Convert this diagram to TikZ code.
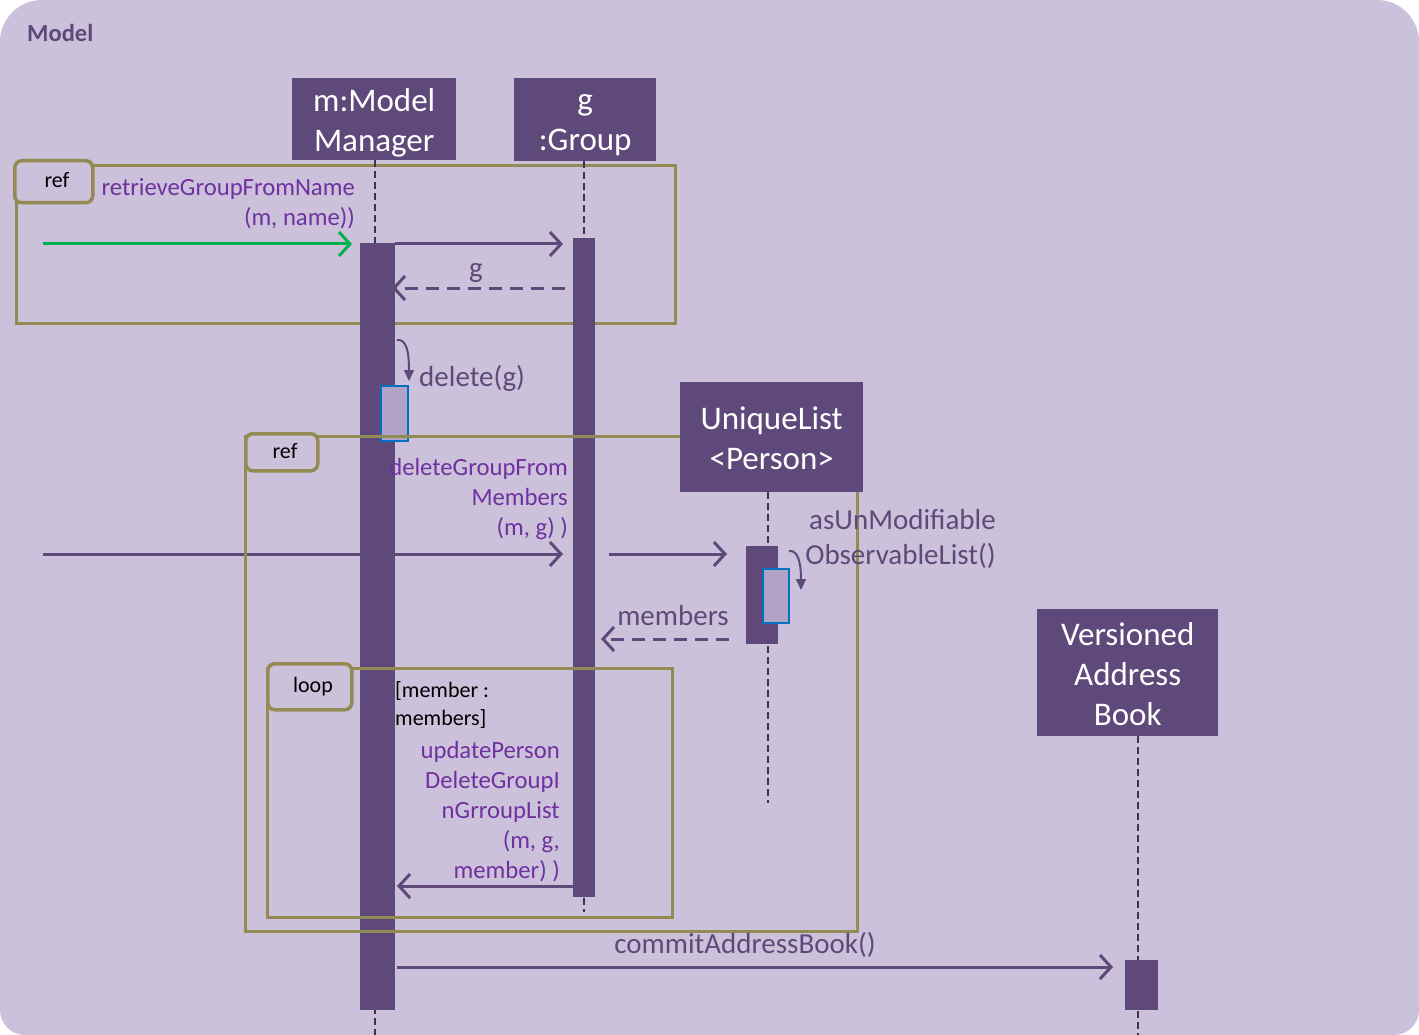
\documentclass[tikz,border=0pt]{standalone}
\usepackage{fontspec}
\setmainfont{Carlito}
\usetikzlibrary{arrows.meta}
\definecolor{bgc}{HTML}{CCC1DA}
\definecolor{dk}{HTML}{5F497A}
\definecolor{dkline}{HTML}{3F3151}
\definecolor{olive}{HTML}{948A54}
\definecolor{ptext}{HTML}{7030A0}
\definecolor{lite}{HTML}{B3A2C7}
\definecolor{blu}{HTML}{0070C0}
\definecolor{grn}{HTML}{00B050}
\begin{document}
\begin{tikzpicture}[x=1pt,y=-1pt,
  hdr/.style={fill=dk, inner sep=0, anchor=north west},
  hdrtxt/.style={text=white, inner sep=0, align=center, font=\fontsize{33}{40}\selectfont},
  bar/.style={fill=dk, draw=none, inner sep=0, anchor=north west},
  sub/.style={fill=lite, draw=blu, line width=1.5pt, inner sep=0, anchor=north west},
  life/.style={draw=dkline, line width=2.5pt, dash pattern=on 7pt off 4pt},
  msg/.style={draw=dk, line width=3pt, -{Straight Barb[length=11pt,width=24pt]}},
  retmsg/.style={msg, dash pattern=on 13pt off 8pt},
  selfcall/.style={draw=dk, line width=2pt, -{Triangle[length=11pt,width=10pt]}},
  frm/.style={draw=olive, line width=3pt, inner sep=0, anchor=north west},
  tabbox/.style={draw=olive, fill=bgc, line width=3.5pt, rounded corners=7pt, inner sep=0, anchor=north west},
  tabtxt/.style={inner sep=0, text=black, font=\fontsize{22}{28}\selectfont, anchor=base},
  lblp/.style={inner sep=0, text=ptext, font=\fontsize{24.7}{30}\selectfont},
  lbld/.style={inner sep=0, text=dk, font=\fontsize{29}{35}\selectfont},
]
\useasboundingbox (0,0) rectangle (1419,1035);
\fill[white] (0,0) rectangle (1419,1035);
\fill[bgc] (0,520) [rounded corners=42pt] -- (0,0) -- (1419,0) -- (1419,520) [rounded corners=25pt] -- (1419,1035) -- (0,1035) -- cycle;

\node[inner sep=0, anchor=base west, text=dk, font=\bfseries\fontsize{24.5}{30}\selectfont] (title) at (27,42) {Model};

% ref frame 1 (behind bars)
\node[frm, minimum width=659pt, minimum height=158pt] (ref1) at (15,164) {};
\node[tabbox, minimum width=78pt, minimum height=42pt] (ref1tab) at (13,159) {};
\node[tabtxt] (ref1txt) at (57,188) {ref};

% header nodes (named for lifelines)
\node[hdr, minimum width=164pt, minimum height=82pt] (mm) at (292,78) {};
\node[hdrtxt] (mmtxt) at ([yshift=-4pt]mm.center) {m:Model\\Manager};
\node[hdr, minimum width=142pt, minimum height=83pt] (gg) at (514,78) {};
\node[hdrtxt] (ggtxt) at ([yshift=-5pt]gg.center) {g\\:Group};

% lifelines
\coordinate (mEnd) at (375,1035);
\coordinate (gEnd) at (584,912);
\coordinate (uEnd) at (768,803);
\coordinate (vEnd) at (1138,1035);
\draw[life] (mEnd |- mm.south) -- (mEnd);
\draw[life] (gEnd |- gg.south) -- (gEnd);
\draw[life] (768,492) -- (uEnd);
\draw[life] (1138,736) -- (vEnd);

% messages behind bars
\coordinate (a0s) at (43,244);  \coordinate (a0e) at (352,244);
\draw[msg, draw=grn] (a0s) -- (a0e);
\coordinate (a3s) at (43,554);  \coordinate (a3e) at (563,554);
\draw[msg] (a3s) -- (a3e);

% activation bars
\node[bar, minimum width=35pt, minimum height=767pt] (mact) at (360,243) {};
\node[bar, minimum width=22pt, minimum height=659pt] (gact) at (573,238) {};
\node[bar, minimum width=32pt, minimum height=98pt] (uact) at (746,546) {};
\node[bar, minimum width=33pt, minimum height=50pt] (vact) at (1125,960) {};
\node[sub, minimum width=27pt, minimum height=55pt] (msub) at (380,385) {};
\node[sub, minimum width=26pt, minimum height=54pt] (usub) at (762,568) {};

% messages
\coordinate (a1s) at (395,244); \coordinate (a1e) at (563,244);
\draw[msg] (a1s) -- (a1e);
\coordinate (a2s) at (565,288); \coordinate (a2e) at (392,288);
\draw[retmsg] (a2s) -- (a2e);
\coordinate (a4s) at (609,554); \coordinate (a4e) at (727,554);
\draw[msg] (a4s) -- (a4e);
\coordinate (a5s) at (729,639); \coordinate (a5e) at (601,639);
\draw[retmsg] (a5s) -- (a5e);
\coordinate (a6s) at (573,886); \coordinate (a6e) at (397,886);
\draw[msg] (a6s) -- (a6e);
\coordinate (a7s) at (397,967); \coordinate (a7e) at (1113,967);
\draw[msg] (a7s) -- (a7e);

% self calls
\coordinate (s1s) at (397,340); \coordinate (s1e) at (409,381);
\draw[selfcall] (s1s) .. controls (406,339) and (409,350) .. (s1e);
\coordinate (s2s) at (789,551); \coordinate (s2e) at (801,590);
\draw[selfcall] (s2s) .. controls (797,550) and (801,560) .. (s2e);

% ref frame 2 and loop frame (on top of bars)
\node[frm, minimum width=612pt, minimum height=495pt] (ref2) at (244,435) {};
\node[tabbox, minimum width=72pt, minimum height=37pt] (ref2tab) at (244,432) {};
\node[tabtxt] (ref2txt) at (285,458) {ref};
\node[frm, minimum width=405pt, minimum height=249pt] (loopf) at (266,667) {};
\node[tabbox, minimum width=84pt, minimum height=46pt] (looptab) at (266,662) {};
\node[tabtxt] (looptxt) at (313,692) {loop};

% headers on top
\node[hdr, minimum width=183pt, minimum height=110pt] (ul) at (680,382) {};
\node[hdrtxt] (ultxt) at ([yshift=-1pt]ul.center) {UniqueList\\<Person>};
\node[hdr, minimum width=181pt, minimum height=127pt] (vab) at (1037,609) {};
\node[hdrtxt] (vabtxt) at ([yshift=-1pt]vab.center) {Versioned\\Address\\Book};

% labels
\node[lblp, anchor=north east, align=right] (l1) at (355,178.5) {retrieveGroupFromName\\(m, name))};
\node[lbld, anchor=base] (l2) at (476,277) {g};
\node[lbld, anchor=base west] (l3) at (419,386) {delete(g)};
\node[lblp, anchor=north east, align=right] (l4) at (568,458.5) {deleteGroupFrom\\Members\\(m, g) )};
\node[lbld, anchor=north east, align=right] (l5) at (996,509.5) {asUnModifiable\\ObservableList()};
\node[lbld, anchor=base] (l6) at (673,625) {members};
\node[inner sep=0, text=black, font=\fontsize{22}{28}\selectfont, anchor=north west, align=left] (l7) at (395,681.5) {[member :\\members]};
\node[lblp, anchor=north east, align=right] (l8) at (560,741.5) {updatePerson\\DeleteGroupI\\nGrroupList\\(m, g,\\member) )};
\node[lbld, anchor=base] (l9) at (745,953) {commitAddressBook()};
\end{tikzpicture}
\end{document}
